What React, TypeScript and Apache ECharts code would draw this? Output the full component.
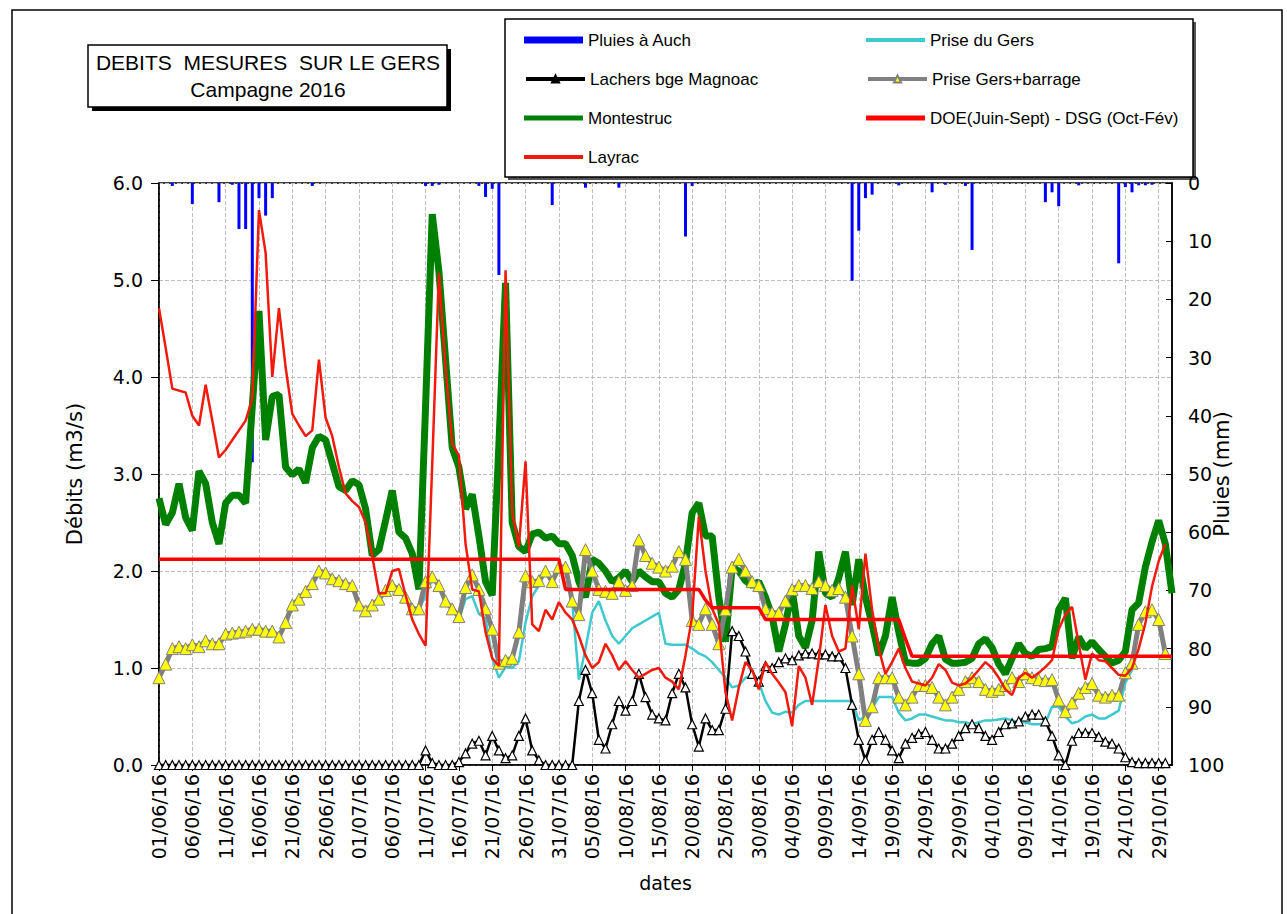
import React, { useEffect, useRef } from "react";
import * as echarts from "echarts";

// ---- categories: daily dates 01/06/16 .. 31/10/16 ----
const dates: string[] = [];
for (let k = 0; k < 153; k++) {
  const d = new Date(2016, 5, 1 + k);
  const dd = String(d.getDate()).padStart(2, "0");
  const mm = String(d.getMonth() + 1).padStart(2, "0");
  dates.push(`${dd}/${mm}/16`);
}

// ---- Pluies à Auch (mm) ----
const pluies = [
  0, 0, 0.5, 0, 0, 3.6, 0, 0, 0, 3.3, 0, 0.3, 7.9, 7.9, 48, 2.6, 5.6, 2.6, 0, 0, 0, 0, 0, 0.5, 0, 0, 0, 0, 0, 0,
  0, 0, 0, 0, 0, 0, 0, 0, 0, 0, 0.5, 0.5, 0.3, 0, 0, 0, 0, 0, 0.5, 2.4, 1.0, 15.8, 0, 0, 0, 0, 0, 0, 0, 3.8, 0,
  0, 0, 0, 0.8, 0, 0, 0, 0, 0.8, 0, 0, 0, 0, 0, 0, 0, 0, 0, 9.2, 0.5, 0, 0, 0, 0, 0, 0, 0, 0, 0, 0, 0,
  0, 0, 0, 0, 0, 0, 0, 0, 0, 0, 0, 0, 16.8, 8.2, 2.6, 2.0, 0, 0, 0, 0.4, 0, 0, 0, 0, 1.6, 0, 0.3, 0, 0, 0.5,
  11.5, 0, 0, 0, 0, 0, 0, 0, 0, 0, 0, 3.3, 1.6, 4.0, 0, 0, 0.4, 0, 0, 0, 0, 0, 13.8, 0.7, 1.6, 0.4, 0.4, 0.3, 0, 0, 0,
];

// ---- Lachers bge Magnoac (m3/s) ----
const lachers = [
  0, 0, 0, 0, 0, 0, 0, 0, 0, 0, 0, 0, 0, 0, 0, 0, 0, 0, 0, 0, 0, 0, 0, 0, 0, 0, 0, 0, 0, 0,
  0, 0, 0, 0, 0, 0, 0, 0, 0, 0, 0.15, 0.02, 0, 0, 0, 0.03, 0.12, 0.22, 0.25, 0.1, 0.3, 0.15, 0.07, 0.1, 0.3, 0.48, 0.15, 0.05, 0, 0, 0,
  0, 0, 0.66, 0.98, 0.74, 0.26, 0.17, 0.42, 0.66, 0.56, 0.66, 0.94, 0.7, 0.52, 0.48, 0.46, 0.74, 0.94, 0.8, 0.42, 0.19, 0.48, 0.36, 0.36, 0.58, 1.38, 1.33, 1.17, 0.94, 0.86, 1.02,
  1.0, 1.06, 1.1, 1.08, 1.13, 1.15, 1.15, 1.14, 1.14, 1.12, 1.12, 1.0, 0.62, 0.26, 0.05, 0.26, 0.34, 0.26, 0.15, 0.07, 0.22, 0.28, 0.32, 0.34, 0.26, 0.17, 0.17, 0.22, 0.3, 0.38,
  0.42, 0.38, 0.3, 0.26, 0.34, 0.42, 0.43, 0.45, 0.5, 0.52, 0.52, 0.45, 0.3, 0.1, 0, 0.25, 0.33, 0.33, 0.33, 0.29, 0.24, 0.22, 0.17, 0.08, 0.03, 0.02, 0.02, 0.02, 0.02, 0.02, null,
];

// ---- Montestruc (m3/s) ----
const montestruc = [
  2.75, 2.48, 2.6, 2.9, 2.55, 2.42, 3.03, 2.9, 2.5, 2.28, 2.7, 2.78, 2.78, 2.7, 3.7, 4.68, 3.35, 3.8, 3.82, 3.07, 2.99, 3.05, 2.91, 3.27, 3.39, 3.35, 3.11, 2.87, 2.83, 2.93,
  2.89, 2.64, 2.16, 2.22, 2.52, 2.83, 2.4, 2.34, 2.18, 1.81, 3.7, 5.68, 5.09, 4.18, 3.27, 3.07, 2.64, 2.79, 2.36, 1.89, 1.75, 3.3, 4.97, 2.5, 2.25, 2.2, 2.38, 2.4, 2.34, 2.36, 2.28,
  2.28, 2.16, 1.89, 1.73, 2.12, 2.08, 2.0, 1.89, 1.93, 2.0, 1.89, 2.0, 1.94, 1.89, 1.89, 1.77, 1.73, 1.81, 2.08, 2.6, 2.7, 2.36, 2.36, 1.73, 1.27, 2.04, 2.0, 1.9, 1.85, 1.89, 1.73,
  1.53, 1.17, 1.45, 1.81, 1.33, 1.21, 1.49, 2.2, 1.77, 1.73, 1.93, 2.2, 1.65, 2.12, 1.73, 1.45, 1.13, 1.33, 1.73, 1.37, 1.06, 1.05, 1.05, 1.1, 1.25, 1.33, 1.09, 1.05, 1.05, 1.06,
  1.1, 1.25, 1.3, 1.21, 1.04, 0.94, 1.1, 1.25, 1.15, 1.12, 1.19, 1.2, 1.22, 1.6, 1.72, 1.1, 1.32, 1.2, 1.27, 1.19, 1.12, 1.05, 1.08, 1.17, 1.6, 1.67, 2.04, 2.3, 2.52, 2.28, 1.77,
];

// ---- Layrac (m3/s) ----
const layrac = [
  4.71, 4.3, 3.88, 3.86, 3.84, 3.6, 3.5, 3.92, 3.55, 3.17, 3.25, 3.35, 3.45, 3.55, 3.78, 5.72, 5.28, 4.0, 4.71, 4.1, 3.62, 3.5, 3.39, 3.45, 4.18, 3.58, 3.39, 3.07, 2.8, 2.72,
  2.66, 2.5, 2.15, 1.77, 1.77, 2.0, 2.02, 1.75, 1.5, 1.35, 1.23, 3.1, 5.07, 4.1, 3.31, 3.19, 2.28, 1.81, 1.79, 1.37, 1.1, 1.02, 5.1, 2.6, 2.25, 3.13, 1.45, 1.38, 1.6, 1.5, 1.68,
  1.57, 1.5, 1.33, 1.13, 1.0, 1.06, 1.25, 1.13, 0.98, 1.07, 0.98, 0.9, 0.94, 0.98, 1.0, 0.9, 0.86, 0.78, 1.13, 1.53, 2.56, 2.0, 1.61, 1.45, 0.75, 0.46, 0.8, 1.06, 0.98, 0.78, 1.06,
  0.94, 0.85, 0.75, 0.4, 1.02, 0.9, 0.62, 1.09, 1.65, 1.33, 1.17, 1.2, 1.85, 1.4, 2.18, 1.6, 1.2, 0.94, 1.06, 1.2, 1.0, 0.86, 0.84, 0.82, 0.9, 1.04, 0.98, 0.85, 0.82, 0.84,
  0.9, 0.98, 1.06, 1.0, 0.9, 0.78, 0.72, 0.9, 0.95, 0.9, 0.95, 1.01, 1.08, 1.4, 1.55, 1.63, 1.25, 0.88, 1.15, 1.08, 1.07, 1.0, 0.93, 0.92, 1.0, 1.2, 1.46, 1.84, 2.1, 2.28, null,
];

// ---- Prise du Gers (m3/s) ----
const priseGers = [
  0.9, 1.04, 1.2, 1.22, 1.2, 1.24, 1.22, 1.28, 1.25, 1.25, 1.35, 1.36, 1.37, 1.38, 1.4, 1.4, 1.38, 1.38, 1.32, 1.47, 1.65, 1.71, 1.79, 1.87, 2.0, 1.98, 1.92, 1.9, 1.87, 1.85,
  1.65, 1.59, 1.65, 1.71, 1.8, 1.85, 1.81, 1.73, 1.61, 1.61, 1.74, 1.92, 1.85, 1.69, 1.61, 1.5, 1.71, 1.74, 1.56, 1.51, 1.1, 0.9, 1.01, 1.0, 1.07, 1.47, 1.74, 1.85, 2.0, 1.89, 2.04,
  2.04, 1.69, 0.88, 1.2, 1.57, 1.69, 1.49, 1.33, 1.25, 1.33, 1.41, 1.45, 1.49, 1.53, 1.57, 1.25, 1.24, 1.24, 1.24, 1.2, 1.15, 1.12, 1.06, 0.98, 0.9, 0.8, 0.82, 0.9, 0.92, 0.85, 0.66,
  0.54, 0.52, 0.55, 0.54, 0.62, 0.66, 0.66, 0.66, 0.66, 0.66, 0.66, 0.66, 0.66, 0.46, 0.5, 0.58, 0.7, 0.7, 0.7, 0.54, 0.46, 0.48, 0.52, 0.52, 0.5, 0.48, 0.46, 0.46, 0.44, 0.44,
  0.42, 0.44, 0.46, 0.46, 0.47, 0.48, 0.46, 0.44, 0.44, 0.42, 0.42, 0.43, 0.6, 0.6, 0.5, 0.43, 0.45, 0.5, 0.52, 0.48, 0.48, 0.52, 0.56, 0.85, 0.98, 1.45, 1.58, 1.6, 1.5, 1.15, null,
];

// ---- Prise Gers+barrage (m3/s) ----
const priseBarrage = [
  0.9, 1.04, 1.2, 1.22, 1.2, 1.24, 1.22, 1.28, 1.25, 1.25, 1.35, 1.36, 1.37, 1.38, 1.4, 1.4, 1.38, 1.38, 1.32, 1.47, 1.65, 1.71, 1.79, 1.87, 2.0, 1.98, 1.92, 1.9, 1.87, 1.85,
  1.65, 1.59, 1.65, 1.71, 1.8, 1.85, 1.81, 1.73, 1.61, 1.61, 1.89, 1.94, 1.85, 1.69, 1.61, 1.53, 1.83, 1.96, 1.81, 1.61, 1.4, 1.05, 1.08, 1.1, 1.37, 1.95, 1.89, 1.9, 2.0, 1.89, 2.04,
  2.04, 1.69, 1.55, 2.22, 2.0, 1.81, 1.79, 1.77, 1.89, 1.8, 1.85, 2.32, 2.16, 2.08, 2.04, 2.0, 2.05, 2.2, 2.12, 1.49, 1.45, 1.61, 1.45, 1.25, 1.6, 2.04, 2.12, 2.0, 1.89, 1.85, 1.61,
  1.57, 1.57, 1.69, 1.81, 1.85, 1.85, 1.82, 1.89, 1.85, 1.8, 1.82, 1.73, 1.33, 0.94, 0.46, 0.6, 0.9, 0.9, 0.9, 0.7, 0.62, 0.7, 0.82, 0.82, 0.8, 0.7, 0.62, 0.7, 0.78, 0.86,
  0.9, 0.86, 0.78, 0.76, 0.78, 0.82, 0.9, 0.86, 0.94, 0.9, 0.88, 0.87, 0.88, 0.67, 0.55, 0.64, 0.74, 0.8, 0.84, 0.72, 0.7, 0.72, 0.72, 0.95, 1.05, 1.45, 1.58, 1.6, 1.5, 1.15, null,
];

// ---- DOE (Juin-Sept) - DSG (Oct-Fév) (m3/s) ----
const doe = [
  2.12, 2.12, 2.12, 2.12, 2.12, 2.12, 2.12, 2.12, 2.12, 2.12, 2.12, 2.12, 2.12, 2.12, 2.12, 2.12, 2.12, 2.12, 2.12, 2.12, 2.12, 2.12, 2.12, 2.12, 2.12, 2.12, 2.12, 2.12, 2.12, 2.12,
  2.12, 2.12, 2.12, 2.12, 2.12, 2.12, 2.12, 2.12, 2.12, 2.12, 2.12, 2.12, 2.12, 2.12, 2.12, 2.12, 2.12, 2.12, 2.12, 2.12, 2.12, 2.12, 2.12, 2.12, 2.12, 2.12, 2.12, 2.12, 2.12, 2.12, 2.12,
  1.81, 1.81, 1.81, 1.81, 1.81, 1.81, 1.81, 1.81, 1.81, 1.81, 1.81, 1.81, 1.81, 1.81, 1.81, 1.81, 1.81, 1.81, 1.81, 1.81, 1.81, 1.7, 1.62, 1.62, 1.62, 1.62, 1.62, 1.62, 1.62, 1.62, 1.5,
  1.5, 1.5, 1.5, 1.5, 1.5, 1.5, 1.5, 1.5, 1.5, 1.5, 1.5, 1.5, 1.5, 1.5, 1.5, 1.5, 1.5, 1.5, 1.5, 1.5, 1.3, 1.12, 1.12, 1.12, 1.12, 1.12, 1.12, 1.12, 1.12, 1.12,
  1.12, 1.12, 1.12, 1.12, 1.12, 1.12, 1.12, 1.12, 1.12, 1.12, 1.12, 1.12, 1.12, 1.12, 1.12, 1.12, 1.12, 1.12, 1.12, 1.12, 1.12, 1.12, 1.12, 1.12, 1.12, 1.12, 1.12, 1.12, 1.12, 1.12, 1.12,
];

const TITLE_LINES = ["DEBITS  MESURES  SUR LE GERS", "Campagne 2016"];
const NAMES = {
  pluies: "Pluies à Auch",
  lachers: "Lachers bge Magnoac",
  montestruc: "Montestruc",
  layrac: "Layrac",
  prise: "Prise du Gers",
  barrage: "Prise Gers+barrage",
  doe: "DOE(Juin-Sept) - DSG (Oct-Fév)",
};

const AXIS_FONT = '"DejaVu Sans", sans-serif';
const LEG_FONT = '"Liberation Sans", Arial, sans-serif';
const TITLE_FONT = '"Liberation Sans", Arial, sans-serif';

const every5 = (i: number) => i % 5 === 0;

function legendItem(name: string, left: number, rowY: number, icon: string | undefined, h: number, symbolFill?: string) {
  const item: any = { name };
  if (icon) item.icon = icon;
  else item.lineStyle = { width: 4 };
  if (symbolFill) item.itemStyle = { color: symbolFill };
  return {
    left, top: rowY - 9, padding: 0, orient: "vertical", itemWidth: 59, itemHeight: h,
    textStyle: { fontFamily: LEG_FONT, fontSize: 17, lineHeight: 18, color: "#000" },
    data: [item],
  };
}

export default function App() {
  const ref = useRef<HTMLDivElement>(null);
  useEffect(() => {
    if (!ref.current) return;
    const chart = echarts.init(ref.current, undefined, { renderer: "svg" });
    chart.setOption({
      animation: false,
      backgroundColor: "#ffffff",
      grid: { left: 159, right: 115, top: 183, bottom: 149, show: true, borderColor: "#000", borderWidth: 1.5 },
      legend: [
        legendItem(NAMES.pluies, 524, 40, "rect", 7),
        legendItem(NAMES.lachers, 524, 79, undefined, 9, "#000000"),
        legendItem(NAMES.montestruc, 524, 118, "rect", 5),
        legendItem(NAMES.layrac, 524, 157, "rect", 4),
        legendItem(NAMES.prise, 866, 40, "rect", 4),
        legendItem(NAMES.barrage, 866, 79, undefined, 9),
        legendItem(NAMES.doe, 866, 118, "rect", 5),
      ],
      xAxis: {
        type: "category", data: dates, boundaryGap: false,
        name: "dates", nameLocation: "middle", nameGap: 108,
        nameTextStyle: { fontFamily: AXIS_FONT, fontSize: 19, color: "#000" },
        axisLine: { lineStyle: { color: "#000", width: 1.5 } },
        axisTick: { interval: every5, length: 6, lineStyle: { color: "#000" } },
        axisLabel: { interval: every5, rotate: 90, margin: 9, fontFamily: AXIS_FONT, fontSize: 19, color: "#000" },
        splitLine: { show: true, interval: every5, lineStyle: { type: "dashed", color: "#bdbdbd", width: 1 } },
      },
      yAxis: [
        {
          type: "value", min: 0, max: 6, interval: 1, position: "left",
          name: "Débits (m3/s)", nameLocation: "middle", nameGap: 74, nameRotate: 90,
          nameTextStyle: { fontFamily: AXIS_FONT, fontSize: 21, color: "#000" },
          axisLine: { show: true, lineStyle: { color: "#000", width: 1.5 } },
          axisTick: { show: true, length: 8, lineStyle: { color: "#000" } },
          axisLabel: { formatter: (v: number) => v.toFixed(1), margin: 16, fontFamily: AXIS_FONT, fontSize: 19, color: "#000" },
          splitLine: { show: true, lineStyle: { type: "dashed", color: "#bdbdbd", width: 1 } },
        },
        {
          type: "value", min: 0, max: 100, interval: 10, inverse: true, position: "right",
          name: "Pluies (mm)", nameLocation: "middle", nameGap: 39, nameRotate: 90, nameMoveOverlap: false,
          nameTextStyle: { fontFamily: AXIS_FONT, fontSize: 21, color: "#000" },
          axisLine: { show: true, lineStyle: { color: "#000", width: 1.5 } },
          axisTick: { show: true, inside: true, length: 6, lineStyle: { color: "#000" } },
          axisLabel: { margin: 16, fontFamily: AXIS_FONT, fontSize: 19, color: "#000" },
          splitLine: { show: false },
        },
      ],
      series: [
        {
          name: NAMES.pluies, type: "bar", yAxisIndex: 1, data: pluies, barWidth: 3,
          itemStyle: { color: "#0000ff" }, z: 1,
        },
        {
          name: NAMES.montestruc, type: "line", data: montestruc, symbol: "none",
          lineStyle: { color: "#008000", width: 7 }, itemStyle: { color: "#008000" }, z: 2,
        },
        {
          name: NAMES.prise, type: "line", data: priseGers, symbol: "none",
          lineStyle: { color: "#3ec9cf", width: 2.5 }, itemStyle: { color: "#3ec9cf" }, z: 3,
        },
        {
          name: NAMES.barrage, type: "line", data: priseBarrage, symbol: "triangle", symbolSize: 12,
          showAllSymbol: true,
          lineStyle: { color: "#808080", width: 5 },
          itemStyle: { color: "#ffff00", borderColor: "#808080", borderWidth: 1 }, z: 4,
        },
        {
          name: NAMES.lachers, type: "line", data: lachers, symbol: "triangle", symbolSize: 9,
          showAllSymbol: true,
          lineStyle: { color: "#000000", width: 2.5 },
          itemStyle: { color: "#ffffff", borderColor: "#000000", borderWidth: 1.2 }, z: 5,
        },
        {
          name: NAMES.layrac, type: "line", data: layrac, symbol: "none",
          lineStyle: { color: "#f2190d", width: 2.5 }, itemStyle: { color: "#f2190d" }, z: 6,
        },
        {
          name: NAMES.doe, type: "line", data: doe, symbol: "none",
          lineStyle: { color: "#ff0000", width: 3.5 }, itemStyle: { color: "#ff0000" }, z: 7,
        },
      ],
      graphic: [
        { type: "rect", shape: { x: 12, y: 10, width: 1270, height: 920 }, style: { fill: "none", stroke: "#000", lineWidth: 1.5 }, silent: true, z: -10 },
        // title box
        { type: "rect", shape: { x: 92, y: 49, width: 359, height: 62 }, style: { fill: "#000" }, silent: true },
        { type: "rect", shape: { x: 88, y: 45, width: 359, height: 62 }, style: { fill: "#fff", stroke: "#000", lineWidth: 1.5 }, silent: true },
        { type: "text", x: 268, y: 62, style: { text: TITLE_LINES[0], font: `21px ${TITLE_FONT}`, fill: "#000", align: "center", verticalAlign: "middle" }, silent: true },
        { type: "text", x: 268, y: 89, style: { text: TITLE_LINES[1], font: `21px ${TITLE_FONT}`, fill: "#000", align: "center", verticalAlign: "middle" }, silent: true },
        // legend box
        { type: "rect", shape: { x: 508, y: 22, width: 688, height: 158 }, style: { fill: "#555" }, silent: true, z: -5 },
        { type: "rect", shape: { x: 505, y: 19, width: 688, height: 158 }, style: { fill: "#fff", stroke: "#000", lineWidth: 1.5 }, silent: true, z: -4 },
      ],
    });
    return () => chart.dispose();
  }, []);
  return <div ref={ref} style={{ position: "absolute", left: 0, top: 0, width: 1287, height: 914 }} />;
}
